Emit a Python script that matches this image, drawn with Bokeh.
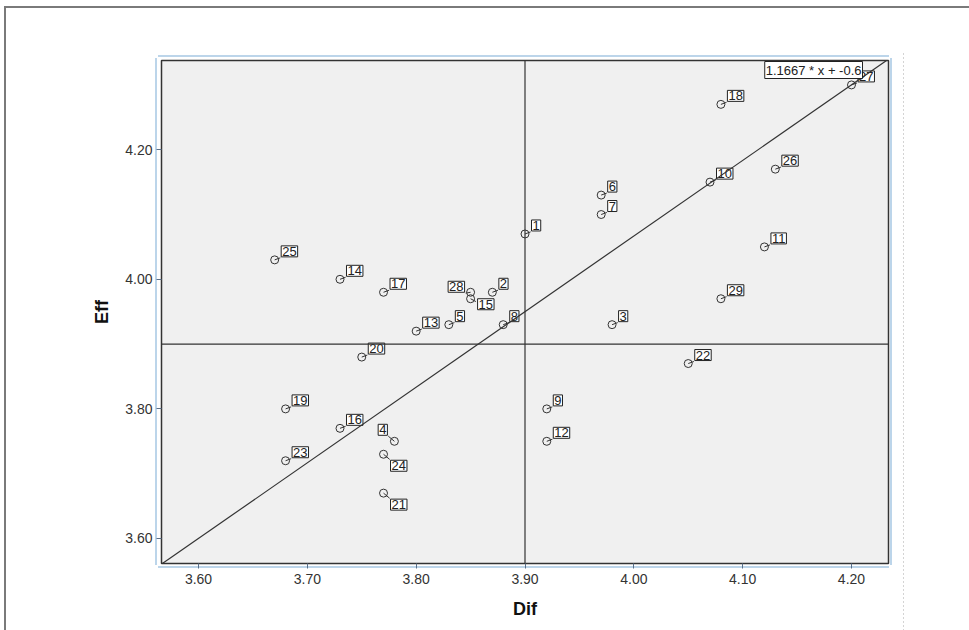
from bokeh.plotting import figure
from bokeh.models import (ColumnDataSource, Span, Label, Slope,
                          FixedTicker, NumeralTickFormatter, Range1d)
from bokeh.core.properties import value
from bokeh.embed import file_html
from bokeh.resources import INLINE

# ---------------- data ----------------
case_ids = list(range(1, 30))
dif = [3.90, 3.87, 3.98, 3.78, 3.83, 3.97, 3.97, 3.88, 3.92, 4.07,
       4.12, 3.92, 3.80, 3.73, 3.85, 3.73, 3.77, 4.08, 3.68, 3.75,
       3.77, 4.05, 3.68, 3.77, 3.67, 4.13, 4.20, 3.85, 4.08]
eff = [4.07, 3.98, 3.93, 3.75, 3.93, 4.13, 4.10, 3.93, 3.80, 4.15,
       4.05, 3.75, 3.92, 4.00, 3.97, 3.77, 3.98, 4.27, 3.80, 3.88,
       3.67, 3.87, 3.72, 3.73, 4.03, 4.17, 4.30, 3.98, 3.97]
x_ticks = [3.60, 3.70, 3.80, 3.90, 4.00, 4.10, 4.20]
y_ticks = [3.60, 3.80, 4.00, 4.20]
ref_dif = 3.90
ref_eff = 3.90
fit_slope = 1.1667
fit_intercept = -0.6
fit_text = "1.1667 * x + -0.6"
x_title = "Dif"
y_title = "Eff"

# ---------------- label placement (screen px styles) ----------------
default_place = dict(xo=6.5, yo=-3, al="left", bl="bottom", ang=20, ln=6)
special_place = {
    4: dict(xo=-7, yo=-6, al="right", bl="bottom", ang=140, ln=8),
    24: dict(xo=7, yo=6, al="left", bl="top", ang=-40, ln=8),
    21: dict(xo=7, yo=6, al="left", bl="top", ang=-40, ln=8),
    15: dict(xo=7, yo=0, al="left", bl="top", ang=-28, ln=6),
    28: dict(xo=-6, yo=0, al="right", bl="bottom", ang=190, ln=5),
}
cols = {k: [] for k in default_place}
for cid in case_ids:
    pl = special_place.get(cid, default_place)
    for k in cols:
        cols[k].append(pl[k])

src = ColumnDataSource(dict(x=dif, y=eff, lbl=[str(c) for c in case_ids], **cols))

FONT = "Liberation Sans"

# decorative page lines (SPSS chart frame, page border, dotted guide), drawn as CSS
def bar(color, x, y, w, h):
    return (f"linear-gradient({color}, {color})", f"{w}px {h}px", f"{x}px {y}px")

deco = [
    bar("#7a7a7a", 4, 6, 965, 2),
    bar("#7a7a7a", 4, 6, 2, 624),
    bar("#bcd5ea", 158, 55, 731, 2),
    bar("#bcd5ea", 158, 566, 731, 2),
    bar("#bcd5ea", 155, 58, 2, 507),
    bar("#bcd5ea", 890, 58, 2, 507),
    ("repeating-linear-gradient(to bottom, #d4d4d4 0px, #d4d4d4 2px, "
     "transparent 2px, transparent 4px)", "1px 577px", "903px 53px"),
]

p = figure(width=969, height=630, output_backend="svg", toolbar_location=None,
           x_range=Range1d(3.566, 4.234), y_range=Range1d(3.5614, 4.3377),
           min_border_left=161, min_border_right=81, min_border_top=60,
           min_border_bottom=67)
p.background_fill_color = "#f0f0f0"
p.border_fill_alpha = 0
p.styles = {
    "background-color": "white",
    "background-image": ", ".join(d[0] for d in deco),
    "background-size": ", ".join(d[1] for d in deco),
    "background-position": ", ".join(d[2] for d in deco),
    "background-repeat": "no-repeat",
}
p.outline_line_color = "#333333"
p.outline_line_width = 1.5
p.grid.visible = False

for ax, ticks in ((p.xaxis, x_ticks), (p.yaxis, y_ticks)):
    ax.ticker = FixedTicker(ticks=ticks)
    ax.formatter = NumeralTickFormatter(format="0.00")
    ax.minor_tick_line_color = None
    ax.major_tick_in = 0
    ax.major_tick_out = 5
    ax.major_tick_line_color = "#5a6f88"
    ax.axis_line_color = "#333333"
    ax.major_label_text_font = FONT
    ax.major_label_text_font_size = "14px"
    ax.major_label_text_color = "#333333"
    ax.axis_label_text_font = FONT
    ax.axis_label_text_font_style = "bold"
    ax.axis_label_text_font_size = "18px"
    ax.axis_label_text_color = "#111111"
p.xaxis.axis_label = x_title
p.yaxis.axis_label = y_title
p.xaxis.major_label_standoff = 5
p.yaxis.major_label_standoff = 4
p.xaxis.axis_label_standoff = 12
p.yaxis.axis_label_standoff = 10

# reference lines
p.add_layout(Span(location=ref_dif, dimension="height", line_color="#333333", line_width=1.2))
p.add_layout(Span(location=ref_eff, dimension="width", line_color="#333333", line_width=1.2))
# fit line
p.add_layout(Slope(gradient=fit_slope, y_intercept=fit_intercept,
                   line_color="#333333", line_width=1.2))

# points
p.scatter("x", "y", source=src, marker="circle", size=8, fill_alpha=0,
          line_color="#333333", line_width=1)
p.ray("x", "y", source=src, length="ln", length_units="screen", angle="ang",
      angle_units="deg", line_color="#333333", line_width=1)
p.text("x", "y", text="lbl", source=src, x_offset="xo", y_offset="yo",
       text_align="al", text_baseline="bl", text_font=value(FONT),
       text_font_size="13px", text_color="#222222",
       background_fill_color="white", border_line_color="#222222",
       border_line_width=1, padding=1)

# equation box
p.add_layout(Label(x=701, y=502, x_units="screen", y_units="screen", text=fit_text,
                   text_align="right", text_baseline="top", text_font=FONT,
                   text_font_size="13px", text_color="#222222",
                   background_fill_color="white", border_line_color="#222222",
                   border_line_width=1, padding=1))

open("out.html", "w").write(file_html(p, INLINE))
